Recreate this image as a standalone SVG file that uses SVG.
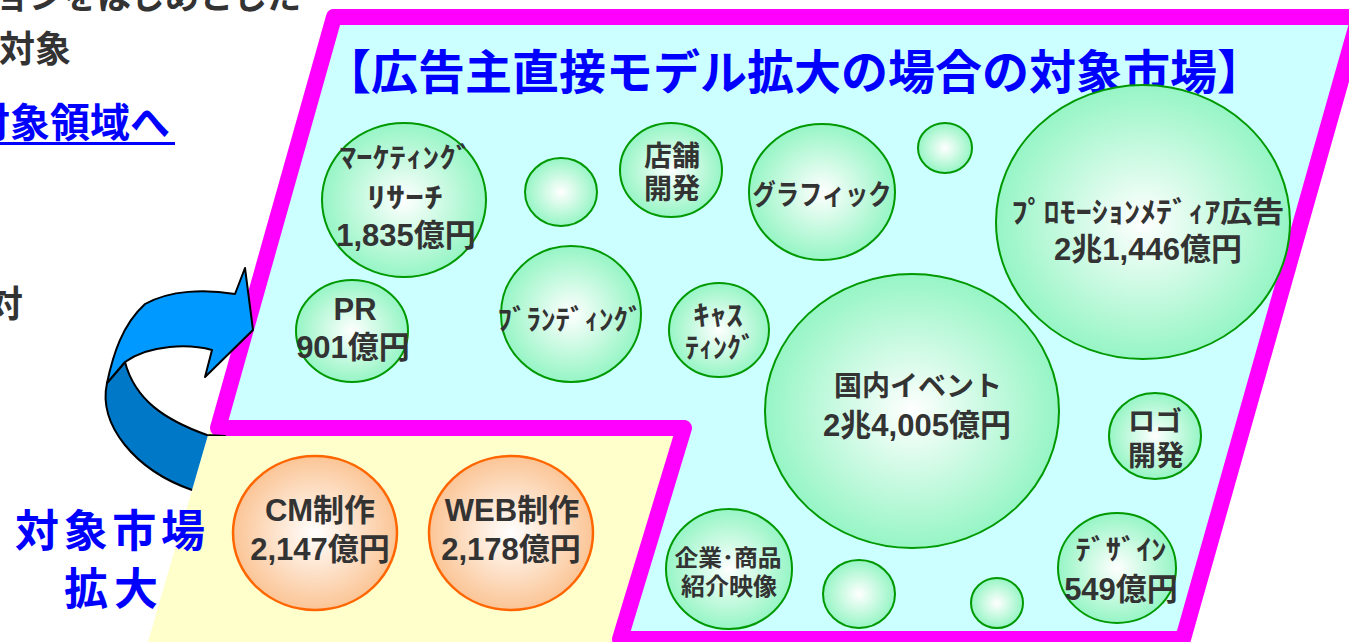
<svg xmlns="http://www.w3.org/2000/svg" width="1349" height="642" viewBox="0 0 1349 642">
<defs>
<style>
.t{font-family:'Liberation Sans','Noto Sans CJK JP',sans-serif;font-weight:bold;fill:#333333;text-anchor:middle}
.k{font-family:'Noto Sans CJK JP','Liberation Sans',sans-serif;font-weight:bold;fill:#333333;text-anchor:middle}
.b{font-family:'Noto Sans CJK JP','Liberation Sans',sans-serif;font-weight:bold;fill:#0000FF}
.d{font-family:'Noto Sans CJK JP','Liberation Sans',sans-serif;font-weight:bold;fill:#333333}
.g{stroke:#009900;stroke-width:2;fill:url(#gg)}
.o{stroke:#FF6600;stroke-width:2.5;fill:url(#og)}
</style>
<radialGradient id="gg" cx="50%" cy="50%" r="50%"><stop offset="0" stop-color="#FFFFFF"/><stop offset="1" stop-color="#96F5C5"/></radialGradient>
<radialGradient id="og" cx="50%" cy="50%" r="50%"><stop offset="0" stop-color="#FFFFFF"/><stop offset="1" stop-color="#FBC596"/></radialGradient>
<clipPath id="arrowClip"><polygon points="0,0 400,0 400,436 207.7,436 148,642 0,642"/></clipPath>
</defs>

<g id="left-text">
<text class="d" x="-5" y="9" font-size="34">ョンをはじめとした</text>
<text class="d" x="-1" y="62" font-size="36">対象</text>
<text class="b" x="-30" y="137" font-size="40">対象領域へ</text>
<rect x="0" y="142" width="175" height="3" fill="#0000FF"/>
<text class="d" x="-13" y="317" font-size="36">対</text>
</g>

<g id="market-area">
<polygon points="210,428 684,428 620,642 148,642" fill="#FFFFCC"/>
<path d="M334,17 L1359,17 L1183,639 L620,639 L684,428 L218,428 Z" fill="#CCFFFF" stroke="#FF00FF" stroke-width="16" stroke-linejoin="round"/>
<text class="b" x="324" y="89" font-size="47" textLength="940">【広告主直接モデル拡大の場合の対象市場】</text>
</g>

<g id="expand-arrow" clip-path="url(#arrowClip)" stroke="#000000" stroke-width="2" stroke-linejoin="round">
<path d="M107,383 C98,425 135,470 192,490 L215,500 L225,436 L207,435 C165,420 135,400 125,362 Z" fill="#0078C8"/>
<path d="M235,294 L245,268 L253,330 L205,377 L212,350 C190,344 150,344 125,362 L107,383 C113,355 122,325 145,304 C170,290 205,289 235,294 Z" fill="#0099FF"/>
</g>

<g id="expand-label">
<text class="b" x="110" y="547" font-size="44" text-anchor="middle" textLength="190">対象市場</text>
<text class="b" x="111" y="605" font-size="44" text-anchor="middle" textLength="94">拡大</text>
</g>

<g id="node-marketing">
<ellipse class="g" cx="404" cy="200" rx="82" ry="77"/>
<text class="k" x="406" y="168" font-size="28" textLength="133" lengthAdjust="spacingAndGlyphs">ﾏｰｹﾃｨﾝｸﾞ</text>
<text class="k" x="405" y="208" font-size="28" textLength="76" lengthAdjust="spacingAndGlyphs">ﾘｻｰﾁ</text>
<text class="t" x="406" y="246" font-size="31">1,835億円</text>
</g>
<g id="node-blank1"><ellipse class="g" cx="561" cy="192" rx="36" ry="34"/></g>
<g id="node-store">
<ellipse class="g" cx="671" cy="170" rx="51" ry="47"/>
<text class="k" x="672" y="166" font-size="28">店舗</text>
<text class="k" x="672" y="199" font-size="28">開発</text>
</g>
<g id="node-graphic">
<ellipse class="g" cx="822" cy="192" rx="73" ry="68"/>
<text class="k" x="822" y="205" font-size="28" textLength="139" lengthAdjust="spacingAndGlyphs">グラフィック</text>
</g>
<g id="node-blank2"><ellipse class="g" cx="945" cy="148" rx="27" ry="25"/></g>
<g id="node-promotion">
<ellipse class="g" cx="1143" cy="222" rx="147" ry="137"/>
<text class="k" x="1148" y="223" font-size="29" textLength="273" lengthAdjust="spacingAndGlyphs">ﾌﾟﾛﾓｰｼｮﾝﾒﾃﾞｨｱ広告</text>
<text class="t" x="1148" y="260" font-size="31">2兆1,446億円</text>
</g>
<g id="node-pr">
<ellipse class="g" cx="352" cy="331" rx="56" ry="51"/>
<text class="t" x="355" y="320" font-size="31">PR</text>
<text class="t" x="353" y="358" font-size="31">901億円</text>
</g>
<g id="node-branding">
<ellipse class="g" cx="571" cy="314" rx="70" ry="68"/>
<text class="k" x="570" y="330" font-size="28" textLength="145" lengthAdjust="spacingAndGlyphs">ﾌﾞﾗﾝﾃﾞｨﾝｸﾞ</text>
</g>
<g id="node-casting">
<ellipse class="g" cx="719" cy="330" rx="50" ry="47"/>
<text class="k" x="718" y="326" font-size="28" textLength="50" lengthAdjust="spacingAndGlyphs">ｷｬｽ</text>
<text class="k" x="720" y="358" font-size="28" textLength="70" lengthAdjust="spacingAndGlyphs">ﾃｨﾝｸﾞ</text>
</g>
<g id="node-event">
<ellipse class="g" cx="912" cy="411" rx="147" ry="137"/>
<text class="k" x="918" y="396" font-size="28">国内イベント</text>
<text class="t" x="917" y="436" font-size="31">2兆4,005億円</text>
</g>
<g id="node-logo">
<ellipse class="g" cx="1155" cy="436" rx="46" ry="43"/>
<text class="k" x="1155" y="431" font-size="27">ロゴ</text>
<text class="k" x="1156" y="466" font-size="28">開発</text>
</g>
<g id="node-video">
<ellipse class="g" cx="729" cy="569" rx="63" ry="60"/>
<text class="k" x="728" y="566" font-size="23" textLength="107" lengthAdjust="spacingAndGlyphs">企業･商品</text>
<text class="k" x="729" y="595" font-size="24">紹介映像</text>
</g>
<g id="node-blank3"><ellipse class="g" cx="859" cy="594" rx="36" ry="34"/></g>
<g id="node-blank4"><ellipse class="g" cx="997" cy="603" rx="26" ry="25"/></g>
<g id="node-design">
<ellipse class="g" cx="1117" cy="568" rx="59" ry="55"/>
<text class="k" x="1121" y="560" font-size="28" textLength="91" lengthAdjust="spacingAndGlyphs">ﾃﾞｻﾞｲﾝ</text>
<text class="t" x="1121" y="600" font-size="31">549億円</text>
</g>
<g id="node-cm">
<ellipse class="o" cx="315" cy="533" rx="82" ry="77"/>
<text class="t" x="320" y="521" font-size="31">CM制作</text>
<text class="t" x="320" y="560" font-size="31">2,147億円</text>
</g>
<g id="node-web">
<ellipse class="o" cx="511" cy="533" rx="82" ry="77"/>
<text class="t" x="512" y="521" font-size="31">WEB制作</text>
<text class="t" x="511" y="560" font-size="31">2,178億円</text>
</g>
</svg>
